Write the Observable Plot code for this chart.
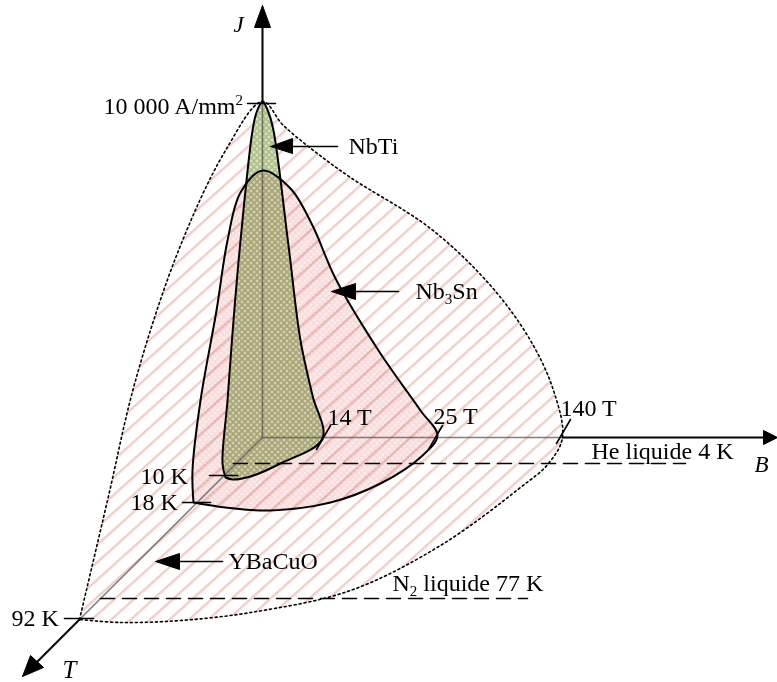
<!DOCTYPE html>
<html><head><meta charset="utf-8">
<style>html,body{margin:0;padding:0;background:#fff}svg{display:block}</style>
<script src="https://cdn.jsdelivr.net/npm/d3@7"></script>
<script src="https://cdn.jsdelivr.net/npm/@observablehq/plot@0.6"></script>
</head><body><div id="chart"></div>
<script>
const ybacuo = [[79,619],[107,500],[135,380],[178,250],[225,150],[262,101],[282,124],[313,150],[350,177],[430,228],[490,285],[530,340],[553,390],[562,437],[548,463],[520,487],[440,545],[350,590],[250,612],[180,620],[120,622],[79,619]];
const nb3sn = [[193,502],[192,470],[200,400],[216,310],[227,240],[240,192],[262,170],[290,188],[312,225],[335,278],[378,350],[420,410],[437,435],[421,456],[380,483],[330,502],[270,510],[225,507],[193,502]];
const nbti = [[225,477],[222,463],[227,400],[233,320],[240,240],[252,130],[256,112],[262,101],[268,112],[273,130],[288,245],[300,340],[312,395],[322,438],[280,463],[250,476],[232,479],[225,477]];
const grayAxes = [[[262,100],[262,437]],[[262,437],[562,437]],[[262,437],[79,619]]];
const blackAxes = [[[262,100],[262,20]],[[562,437],[765,437]],[[79,619],[35,663]]];
const ticks = [[[247,103],[275,103]],[[209,475],[237,475]],[[182,502],[210,502]],[[64,618],[93,618]],[[330,425],[316,449]],[[442,425],[428,449]],[[570,419],[556,443]]];
const dashes = [[[233,463],[685,463]],[[100,598],[527,598]]];
const leaders = [[[337,146],[290,146]],[[398,291],[350,291]],[[222,561],[175,561]]];
const heads = [[[262,5],[254,27],[270,27]],[[777,437],[763,430],[763,444]],[[22,676],[30,655],[43,667]],[[270,146],[292,138],[292,153]],[[331,291],[355,283],[355,299]],[[155,561],[179,553],[179,569]]];
const labels = [
 {t:"10 000 A/mm2",x:103,y:106},{t:"NbTi",x:348,y:146},{t:"Nb3Sn",x:415,y:291},
 {t:"14 T",x:327,y:417},{t:"25 T",x:433,y:416},{t:"140 T",x:560,y:408},
 {t:"He liquide 4 K",x:591,y:451},{t:"10 K",x:140,y:476},{t:"18 K",x:130,y:502},
 {t:"YBaCuO",x:228,y:561},{t:"N2 liquide 77 K",x:392,y:583},{t:"92 K",x:11,y:618}
];
const italics = [{t:"J",x:233,y:24,s:23},{t:"B",x:754,y:464,s:23},{t:"T",x:62,y:669,s:25}];

const X = d=>d[0], Y = d=>d[1];
const defs = () => {
  const ns = "http://www.w3.org/2000/svg";
  const g = document.createElementNS(ns,"defs");
  g.innerHTML = `
  <pattern id="hatch" width="13" height="13" patternUnits="userSpaceOnUse" patternTransform="rotate(-42 0 0)">
    <rect width="13" height="13" fill="#fff"/><rect y="0" width="13" height="2.4" fill="#f1cdc9"/>
  </pattern>
  <pattern id="pinkdots" width="6" height="6" patternUnits="userSpaceOnUse">
    <rect width="6" height="6" fill="#f7dddc"/><circle cx="1.5" cy="1.5" r="1" fill="#fff"/><circle cx="4.5" cy="4.5" r="1" fill="#fff"/>
  </pattern>
  <pattern id="greendots" width="6" height="6" patternUnits="userSpaceOnUse">
    <rect width="6" height="6" fill="#adc086"/><circle cx="1.5" cy="1.5" r="1.1" fill="#fff"/><circle cx="4.5" cy="4.5" r="1.1" fill="#fff"/>
  </pattern>`;
  return g;
};
const poly = (d,o)=>Plot.line(d,{x:X,y:Y,curve:"catmull-rom",...o});
const straight = (list,o)=>list.map(d=>Plot.line(d,{x:X,y:Y,...o}));
const font = "'Liberation Serif','Times New Roman',serif";
const svg = Plot.plot({
  width:777,height:682,margin:0,
  x:{domain:[0,777],range:[0,777],axis:null},
  y:{domain:[0,682],range:[0,682],axis:null},
  style:{background:"transparent",fontFamily:font},
  marks:[
    defs,
    poly(ybacuo,{fill:"url(#hatch)",stroke:"none"}),
    poly(nbti,{fill:"#fff",stroke:"none"}),
    poly(nb3sn,{fill:"url(#pinkdots)",stroke:"none",mixBlendMode:"multiply"}),
    poly(nbti,{fill:"url(#greendots)",stroke:"none",mixBlendMode:"multiply"}),
    ...straight(grayAxes,{stroke:"#555",strokeWidth:1.6,strokeOpacity:0.75}),
    ...straight(blackAxes,{stroke:"#000",strokeWidth:2}),
    poly(ybacuo,{stroke:"#000",strokeWidth:1.6,strokeDasharray:"2 3"}),
    poly(nb3sn,{stroke:"#000",strokeWidth:2}),
    poly(nbti,{stroke:"#000",strokeWidth:2}),
    ...straight(ticks,{stroke:"#000",strokeWidth:1.6}),
    ...straight(dashes,{stroke:"#000",strokeWidth:1.6,strokeDasharray:"14 8"}),
    ...straight(leaders,{stroke:"#000",strokeWidth:1.6}),
    ...heads.map(h=>Plot.line([...h,h[0]],{x:X,y:Y,fill:"#000",stroke:"#000",strokeWidth:1})),
    Plot.text(labels,{x:"x",y:"y",text:"t",textAnchor:"start",fontSize:24,fill:"#000"}),
    ...italics.map(d=>Plot.text([d],{x:"x",y:"y",text:"t",textAnchor:"start",fontSize:d.s,fontStyle:"italic",fill:"#000"}))
  ]
});
d3.select(svg).selectAll("text").each(function(){
  const el=this, s=el.textContent;
  const m=s.match(/^(10 000 A\/mm)(2)$|^(Nb)(3)(Sn)$|^(N)(2)( liquide 77 K)$/);
  if(!m) return;
  const parts = m[1]?[m[1],m[2],""]:m[3]?[m[3],m[4],m[5]]:[m[6],m[7],m[8]];
  const sup = !!m[1];
  el.textContent="";
  d3.select(el).append("tspan").text(parts[0]);
  d3.select(el).append("tspan").attr("font-size",15).attr("dy",sup?-9:5).text(parts[1]);
  if(parts[2]) d3.select(el).append("tspan").attr("dy",-5).text(parts[2]);
});
document.getElementById("chart").append(svg);
</script></body></html>
